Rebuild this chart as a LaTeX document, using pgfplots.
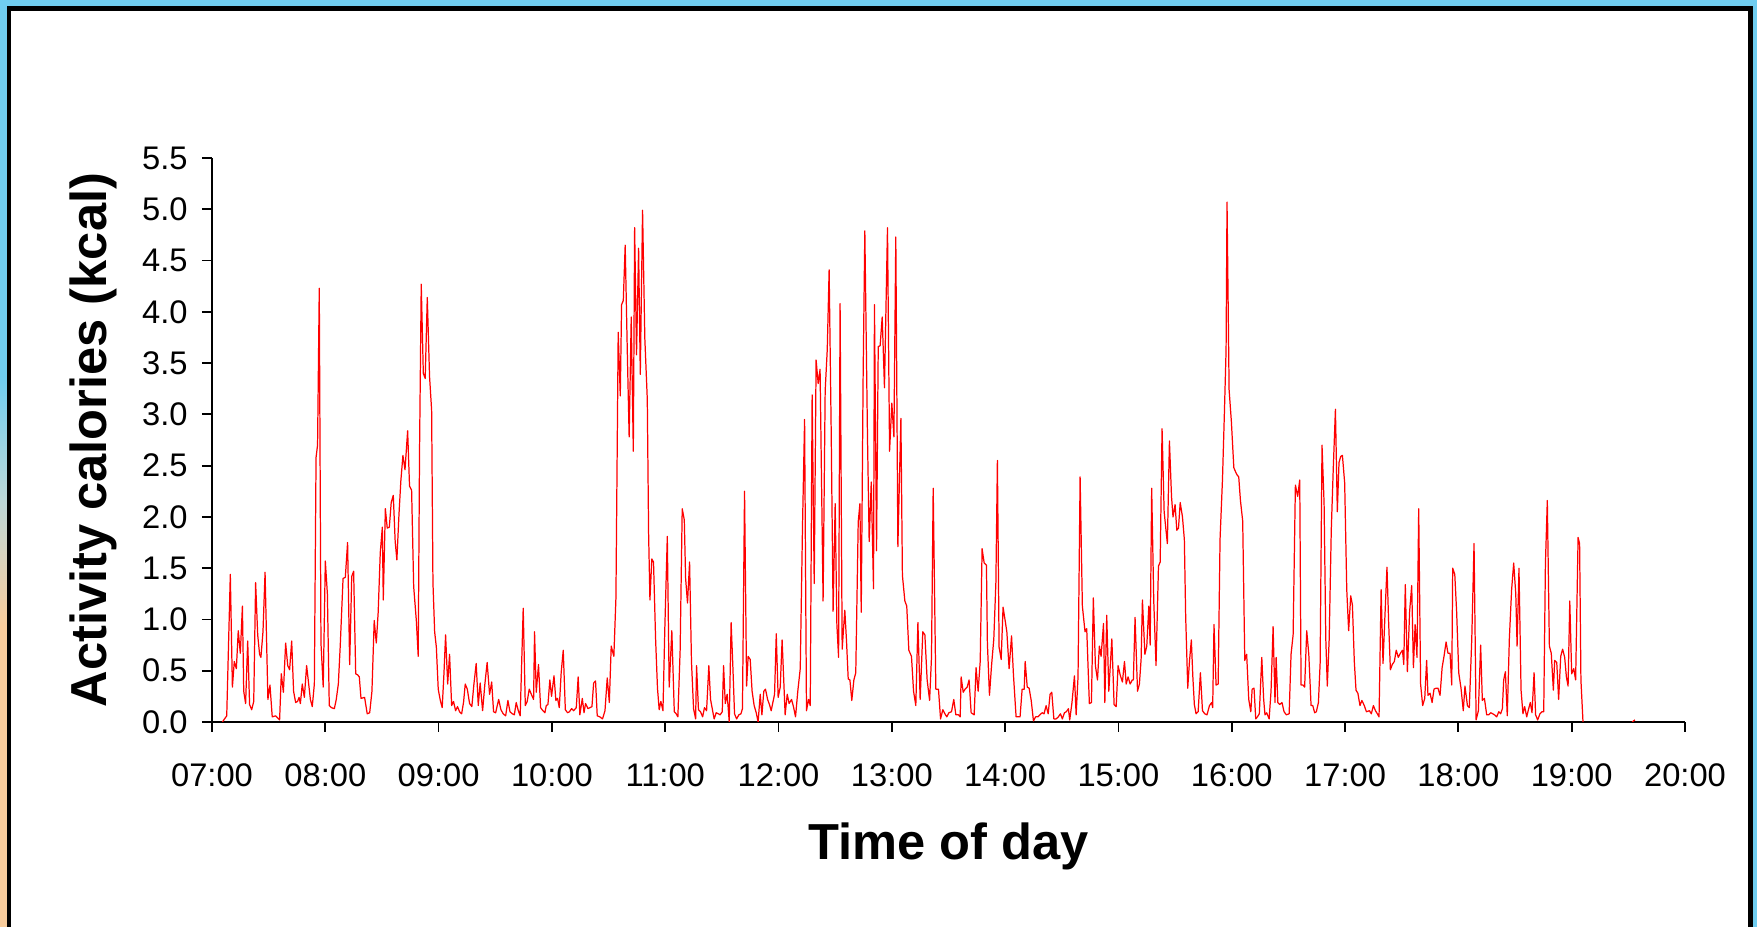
\documentclass[border=0pt]{standalone}
\usepackage{fontspec}
\setmainfont{Liberation Sans}
\usepackage{pgfplots}
\pgfplotsset{compat=1.18}
\definecolor{slideblue}{RGB}{112,205,240}
\definecolor{slideorange}{RGB}{248,204,156}
\definecolor{slidemid}{RGB}{190,215,215}

\begin{document}
\begin{tikzpicture}
\useasboundingbox (0,0) rectangle (175.7mm,92.7mm);
% slide background and frame
\fill[slideblue] (0,0) rectangle (175.7mm,92.7mm);
\fill[slideorange] (0,0) rectangle (0.8mm,30mm);
\shade[bottom color=slideorange, top color=slideblue, middle color=slidemid] (0,30mm) rectangle (0.8mm,55mm);
\fill[black] (0.7mm,0) rectangle (175.3mm,92.1mm);
\fill[white] (1.1mm,0) rectangle (174.8mm,91.6mm);

\begin{axis}[
  at={(21.2mm,20.5mm)}, anchor=south west,
  scale only axis, width=147.3mm, height=56.4mm,
  xmin=0, xmax=780, ymin=0, ymax=5.5,
  axis x line*=bottom, axis y line*=left,
  axis line style={black, line width=0.6pt},
  tick align=outside, major tick length=1mm,
  tick style={black, line width=0.5pt},
  xtick={0,60,120,180,240,300,360,420,480,540,600,660,720,780},
  xticklabels={07:00,08:00,09:00,10:00,11:00,12:00,13:00,14:00,15:00,16:00,17:00,18:00,19:00,20:00},
  ytick={0,0.5,1,1.5,2,2.5,3,3.5,4,4.5,5,5.5},
  xticklabel style={yshift=-1.9mm},
  yticklabel style={xshift=-0.2mm, /pgf/number format/.cd, fixed, fixed zerofill, precision=1},
  /pgf/number format/assume math mode=true,
  tick label style={font=\fontsize{9.3}{11}\selectfont},
  xlabel={Time of day}, ylabel={Activity calories (kcal)},
  label style={font=\fontsize{14.4}{17}\selectfont\bfseries},
  xlabel style={at={(axis description cs:0.5,-0.22)}, anchor=center},
  ylabel style={at={(axis description cs:-0.0808,0.5)}, anchor=center},
]
\addplot[red, line width=0.35pt, line join=round, mark=none] coordinates {
(5.5,0) (7.8,0.06) (9.7,1.44) (10.8,0.34) (11.8,0.59) (12.9,0.52) (13.9,0.89) (15.0,0.67) (16.1,1.13) (16.8,0.30)
(17.8,0.18) (18.9,0.79) (19.9,0.17) (21.0,0.12) (22.1,0.2) (23.1,1.36) (24.2,0.85) (25.2,0.66) (25.9,0.63) (27.0,0.88)
(28.1,1.46) (28.8,0.88) (29.6,0.22) (30.7,0.36) (31.9,0.05) (33.7,0.06) (35.8,0.02) (36.7,0.47) (37.8,0.29) (39.0,0.77)
(40.1,0.55) (41.1,0.51) (42.2,0.79) (43.2,0.30) (44.3,0.19) (45.3,0.2) (46.1,0.24) (46.8,0.18) (47.8,0.37) (48.9,0.24)
(50.1,0.55) (51.2,0.37) (52.1,0.22) (53.1,0.15) (54.2,0.37) (55.1,2.58) (55.9,2.70) (56.8,4.23) (57.7,0.77) (58.9,0.34)
(60.0,1.57) (61.1,1.25) (62.1,0.16) (63.2,0.14) (64.8,0.13) (65.8,0.22) (66.9,0.37) (67.9,0.74) (69.4,1.40) (70.6,1.41)
(71.8,1.75) (72.9,0.56) (74.0,1.42) (75.0,1.47) (76.1,0.47) (77.1,0.46) (78.0,0.44) (78.9,0.23) (80.8,0.24) (82.2,0.08)
(83.5,0.09) (84.7,0.30) (85.9,0.99) (87.0,0.77) (88.0,1.07) (89.1,1.65) (90.2,1.90) (90.7,1.19) (91.8,2.08) (92.8,1.89)
(93.9,1.90) (94.9,2.14) (96.0,2.21) (97.0,1.76) (97.9,1.58) (99.0,2.02) (100.0,2.35) (101.1,2.60) (102.2,2.46) (103.6,2.84)
(104.6,2.30) (105.7,2.26) (106.8,1.32) (108.2,0.99) (109.2,0.64) (109.9,2.64) (110.8,4.27) (111.9,3.40) (112.9,3.35) (114.0,4.14)
(115.2,3.37) (116.3,3.04) (117.0,1.36) (117.9,0.88) (118.8,0.73) (119.8,0.32) (120.9,0.21) (121.9,0.14) (122.8,0.46) (123.7,0.85)
(124.8,0.37) (125.8,0.66) (126.9,0.16) (127.9,0.2) (129.0,0.11) (130.0,0.15) (131.1,0.10) (132.2,0.08) (133.2,0.19) (134.1,0.37)
(135.2,0.32) (136.4,0.18) (137.6,0.15) (138.7,0.37) (139.9,0.57) (141.0,0.16) (142.0,0.38) (143.3,0.11) (144.5,0.37) (145.7,0.58)
(147.0,0.27) (148.1,0.39) (149.1,0.10) (150.2,0.09) (151.8,0.22) (153.0,0.12) (154.2,0.08) (155.5,0.06) (156.7,0.21) (157.8,0.10)
(159.0,0.08) (160.1,0.07) (161.1,0.19) (162.2,0.11) (163.2,0.06) (164.8,1.11) (165.9,0.16) (166.9,0.20) (168.0,0.32) (169.1,0.27)
(170.3,0.22) (170.8,0.88) (171.7,0.29) (172.9,0.56) (174.0,0.14) (175.2,0.11) (176.3,0.09) (177.0,0.16) (177.9,0.17) (178.9,0.41)
(179.8,0.25) (181.1,0.45) (182.1,0.21) (183.0,0.23) (183.9,0.14) (184.9,0.48) (186.0,0.70) (187.1,0.12) (188.3,0.09) (189.3,0.10)
(190.4,0.13) (191.5,0.11) (192.9,0.14) (193.9,0.44) (194.8,0.07) (196.1,0.23) (197.0,0.09) (197.8,0.18) (199.1,0.13) (201.2,0.15)
(202.1,0.38) (203.1,0.40) (204.0,0.06) (205.4,0.05) (206.8,0.03) (208.1,0.11) (209.3,0.43) (210.4,0.19) (211.4,0.74) (212.8,0.64)
(213.9,1.21) (215.1,3.80) (216.2,3.18) (216.9,4.07) (217.8,4.11) (218.8,4.65) (219.9,3.63) (220.9,2.78) (222.0,3.95) (223.1,2.64)
(223.8,4.82) (224.8,3.58) (225.9,4.62) (226.8,3.39) (228.0,4.99) (229.2,3.74) (230.5,3.15) (231.2,1.84) (231.9,1.19) (232.9,1.59)
(233.8,1.56) (234.9,0.81) (235.9,0.33) (236.8,0.12) (237.7,0.20) (238.8,0.11) (239.8,0.92) (241.1,1.81) (242.1,0.34) (243.5,0.89)
(244.8,0.10) (245.8,0.08) (246.7,0.05) (247.9,0.70) (249.0,2.08) (250.1,1.97) (250.8,1.40) (251.8,1.16) (252.9,1.56) (253.9,0.59)
(255.0,0.13) (256.1,0.03) (256.6,0.55) (257.6,0.12) (258.7,0.10) (259.8,0.05) (260.8,0.14) (261.9,0.11) (263.1,0.55) (264.0,0.22)
(265.1,0.11) (265.9,0.03) (267.0,0.09) (268.1,0.08) (269.1,0.07) (270.2,0.10) (270.9,0.55) (271.8,0.18) (272.8,0.27) (273.9,0.0)
(274.9,0.97) (275.8,0.55) (276.7,0.08) (277.8,0.03) (279.0,0.07) (280.1,0.08) (280.9,0.13) (282.0,2.25) (283.1,0.35) (283.9,0.64)
(285.0,0.61) (286.0,0.30) (287.1,0.16) (288.2,0.09) (289.2,0.0) (290.3,0.27) (291.2,0.07) (292.2,0.30) (293.1,0.32) (294.2,0.22)
(295.2,0.17) (296.1,0.11) (297.0,0.19) (297.9,0.27) (298.8,0.86) (299.8,0.24) (300.9,0.34) (301.9,0.80) (303.5,0.07) (304.6,0.27)
(305.6,0.18) (306.9,0.22) (307.9,0.15) (309.0,0.05) (310.2,0.30) (311.5,0.52) (312.7,1.91) (313.8,2.95) (314.8,0.11) (315.9,0.22)
(316.8,0.16) (317.8,3.19) (318.9,1.35) (319.9,3.53) (321.0,3.30) (322.0,3.44) (323.6,1.18) (324.7,3.23) (325.8,3.63) (326.8,4.41)
(327.9,2.82) (328.9,1.08) (330.0,2.13) (330.9,0.95) (331.8,0.63) (332.6,4.08) (333.7,0.71) (335.1,1.09) (336.0,0.79) (336.9,0.42)
(337.8,0.41) (338.8,0.21) (339.9,0.41) (340.9,0.48) (342.2,1.95) (343.1,2.13) (343.8,1.07) (344.8,3.37) (345.7,4.79) (347.1,2.79)
(348.0,1.76) (349.1,2.34) (350.3,1.30) (350.8,4.07) (351.9,1.67) (352.8,3.66) (353.8,3.67) (354.9,3.95) (356.1,3.26) (357.7,4.82)
(358.8,2.64) (360.0,3.11) (361.1,2.78) (362.1,4.73) (363.2,1.71) (364.8,2.96) (365.6,1.43) (366.9,1.18) (367.9,1.13) (369.0,0.70)
(370.4,0.64) (371.5,0.30) (372.7,0.16) (373.8,0.97) (375.0,0.22) (376.4,0.88) (377.5,0.85) (378.7,0.41) (380.0,0.21) (381.0,0.63)
(381.9,2.28) (383.3,0.32) (384.7,0.32) (385.8,0.03) (387.0,0.12) (388.1,0.08) (389.1,0.05) (390.2,0.09) (391.6,0.10) (392.8,0.22)
(393.9,0.07) (395.3,0.07) (396.2,0.05) (396.7,0.44) (397.8,0.29) (398.8,0.32) (399.9,0.34) (400.9,0.41) (402.0,0.09) (403.6,0.07)
(404.6,0.53) (405.7,0.30) (406.8,0.59) (407.8,1.69) (408.9,1.55) (410.1,1.53) (410.6,0.77) (411.7,0.26) (412.8,0.55) (414.0,0.81)
(415.1,1.36) (415.9,2.55) (416.8,0.73) (417.9,0.61) (418.9,1.12) (420.0,0.99) (420.9,0.88) (422.1,0.52) (423.4,0.84) (424.4,0.46)
(425.8,0.05) (426.9,0.05) (427.9,0.05) (429.0,0.32) (430.1,0.32) (430.6,0.59) (431.7,0.34) (432.7,0.33) (433.8,0.21) (435.0,0.01)
(436.1,0.05) (437.3,0.05) (438.4,0.07) (439.6,0.09) (440.6,0.08) (441.7,0.16) (442.8,0.08) (443.8,0.27) (444.7,0.29) (445.8,0.03)
(447.0,0.03) (448.2,0.05) (449.3,0.08) (450.3,0.03) (451.4,0.09) (452.4,0.10) (453.5,0.13) (454.2,0.02) (455.4,0.19) (456.7,0.45)
(457.6,0.07) (458.6,0.44) (459.7,2.39) (460.9,1.13) (462.3,0.88) (463.2,0.91) (464.6,0.18) (465.7,0.19) (466.7,1.21) (467.8,0.55)
(468.9,0.41) (469.9,0.74) (470.8,0.64) (472.1,0.96) (472.8,0.19) (473.8,1.04) (474.9,0.30) (476.5,0.81) (477.7,0.17) (478.8,0.15)
(479.8,0.55) (480.9,0.46) (482.1,0.39) (483.2,0.59) (484.1,0.37) (485.1,0.44) (486.2,0.37) (487.3,0.41) (487.9,0.41) (488.8,1.02)
(490.1,0.30) (491.1,0.37) (492.0,0.61) (492.7,1.19) (494.0,0.66) (495.0,0.74) (496.1,1.13) (496.8,0.75) (497.6,2.28) (498.7,1.18)
(499.9,0.55) (501.2,1.52) (502.1,1.56) (503.1,2.86) (504.2,2.05) (505.9,1.74) (507.0,2.74) (508.1,2.20) (508.9,2.00) (510.0,2.12)
(510.9,1.87) (511.8,1.89) (512.7,2.14) (513.9,2.00) (514.9,1.78) (515.6,1.03) (516.7,0.33) (517.6,0.59) (518.6,0.80) (519.4,0.44)
(520.2,0.17) (521.1,0.08) (522.2,0.10) (523.4,0.48) (524.5,0.11) (525.7,0.08) (526.9,0.07) (528.2,0.16) (529.4,0.19) (529.9,0.14)
(530.6,0.95) (531.7,0.36) (532.8,0.37) (533.8,1.78) (535.1,2.37) (536.1,3.01) (537.0,3.63) (537.5,5.07) (538.6,3.24) (539.8,2.93)
(541.1,2.48) (542.0,2.44) (542.8,2.41) (543.7,2.39) (544.6,2.16) (545.8,1.96) (546.9,0.60) (547.9,0.66) (549.0,0.22) (550.1,0.10)
(550.8,0.32) (551.8,0.33) (552.7,0.03) (553.6,0.05) (554.6,0.08) (555.9,0.63) (556.9,0.22) (557.6,0.07) (558.5,0.09) (559.8,0.03)
(560.8,0.30) (561.9,0.93) (562.9,0.19) (563.5,0.63) (564.4,0.19) (565.4,0.17) (566.6,0.19) (567.7,0.10) (568.9,0.07) (570.4,0.08)
(571.4,0.66) (572.5,0.85) (573.7,2.31) (574.9,2.20) (576.0,2.36) (576.7,0.36) (577.8,0.36) (578.6,0.34) (579.7,0.89) (580.8,0.66)
(582.0,0.16) (582.9,0.16) (583.9,0.09) (584.8,0.10) (585.9,0.19) (586.8,0.57) (587.8,2.70) (588.9,2.13) (589.8,0.81) (590.6,0.35)
(591.6,0.81) (592.7,1.87) (593.7,2.44) (594.9,3.05) (595.9,2.05) (596.8,2.53) (597.7,2.59) (598.6,2.60) (599.8,2.33) (600.9,1.29)
(601.9,0.89) (603.0,1.23) (603.9,1.14) (604.9,0.59) (605.8,0.31) (606.8,0.28) (607.9,0.16) (608.9,0.21) (610.2,0.16) (611.3,0.10)
(612.9,0.11) (613.9,0.08) (615.0,0.16) (616.1,0.11) (617.1,0.08) (618.0,0.05) (619.1,1.29) (620.1,0.57) (621.2,1.07) (622.2,1.51)
(623.1,0.96) (624.0,0.51) (625.0,0.56) (626.1,0.59) (627.1,0.70) (628.2,0.63) (629.3,0.67) (630.4,0.70) (631.1,0.56) (631.9,1.34)
(633.0,0.49) (634.2,1.08) (635.3,1.33) (636.2,0.53) (637.1,0.95) (638.1,0.63) (639.0,2.08) (640.0,0.37) (641.1,0.16) (642.2,0.23)
(643.2,0.60) (643.9,0.26) (645.0,0.28) (646.1,0.19) (647.1,0.32) (648.2,0.33) (649.2,0.33) (650.3,0.26) (651.4,0.53) (652.4,0.64)
(653.5,0.78) (654.5,0.67) (655.6,0.67) (656.5,0.36) (657.0,1.50) (658.1,1.44) (659.1,1.07) (660.2,0.48) (661.4,0.33) (662.6,0.11)
(663.5,0.35) (664.8,0.16) (665.8,0.14) (667.1,0.81) (668.3,1.74) (669.4,0.02) (670.6,0.11) (671.8,0.75) (672.7,0.21) (673.8,0.23)
(675.0,0.07) (676.1,0.07) (677.1,0.09) (678.2,0.08) (679.1,0.07) (680.3,0.05) (681.4,0.10) (682.4,0.08) (683.3,0.13) (684.0,0.41)
(684.9,0.49) (685.9,0.06) (687.0,0.81) (688.2,1.29) (689.3,1.55) (690.4,1.25) (691.1,0.74) (692.1,1.50) (693.2,0.31) (694.2,0.08)
(695.1,0.15) (696.2,0.05) (697.1,0.12) (698.1,0.19) (699.0,0.09) (700.1,0.48) (700.9,0.07) (702.0,0.02) (703.2,0.08) (704.3,0.10)
(705.2,0.10) (706.1,1.54) (707.1,2.16) (708.2,0.74) (709.2,0.67) (710.3,0.31) (711.0,0.60) (712.1,0.58) (713.1,0.22) (714.2,0.64)
(715.2,0.71) (716.3,0.63) (717.2,0.44) (718.1,0.35) (719.0,1.18) (720.0,0.47) (721.1,0.52) (722.1,0.41) (723.4,1.80) (724.2,1.74)
(724.9,0.41) (726.0,0.0)
};
\addplot[red, line width=0.35pt, mark=none] coordinates {(752.0,0.0) (753.5,0.02)};
\end{axis}
\end{tikzpicture}
\end{document}
